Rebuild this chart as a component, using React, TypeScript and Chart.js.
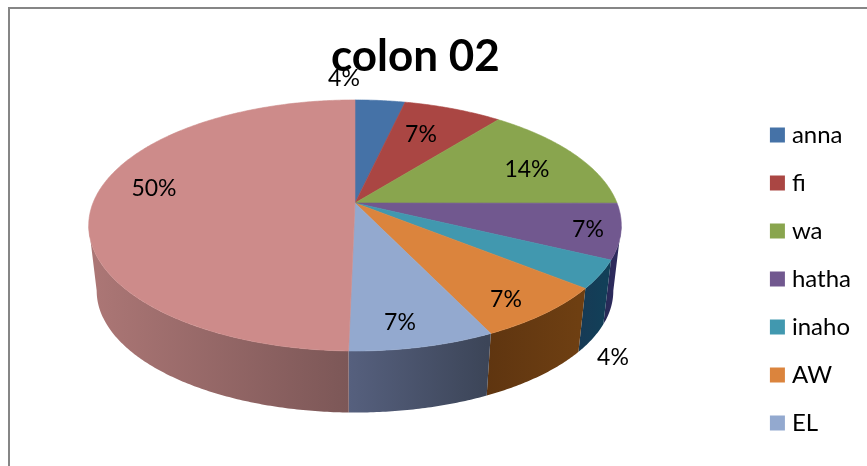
import React, { useEffect, useRef } from "react";
import { Chart, registerables } from "chart.js";

Chart.register(...registerables);

// Share of each group, in percent. The last group has no legend entry.
const groups = ["anna", "fi", "wa", "hatha", "inaho", "AW", "EL", ""];
const shares = [3.6, 7.1, 14.3, 7.1, 3.6, 7.1, 7.47, 49.63];
const topColors = ["#4572A7", "#AA4643", "#89A54E", "#71588F", "#4198AF", "#DB843D", "#93A9CF", "#CD8B8A"];
const wallFrom = ["#2b3f60", "#6a2b2a", "#556630", "#2d2a5c", "#123f58", "#6e3f12", "#3c4558", "#7c5757"];
const wallTo = ["#2b3f60", "#6a2b2a", "#556630", "#252a55", "#173a55", "#5f3510", "#56607e", "#ab7675"];

// Perspective disc: hub position, half-axes through the hub, and the foreshortening factor.
const HUB_X = 355;
const HUB_Y = 203;
const AXIS_X = 262;
const AXIS_Y = 121.5;
const TILT = 0.179;
const FLOOR_SCALE = 0.97;
const FLOOR_DROP = 66;
const WALL_START = (100.3 * Math.PI) / 180;
const WALL_END = (259.7 * Math.PI) / 180;

// Where each percentage is centred on the page.
const labelSpots = [
  [344, 79],
  [421, 135],
  [527, 170],
  [588, 230],
  [613, 358],
  [506, 300],
  [400, 323],
  [154, 189],
];

function rimPoint(theta: number, floor: boolean): [number, number] {
  const u = Math.sin(theta);
  const v = -Math.cos(theta);
  const w = 1 - TILT * v;
  if (floor) {
    return [HUB_X + (FLOOR_SCALE * AXIS_X * u) / w, HUB_Y + FLOOR_DROP + (FLOOR_SCALE * AXIS_Y * v) / w];
  }
  return [HUB_X + (AXIS_X * u) / w, HUB_Y + (AXIS_Y * v) / w];
}

function traceRim(ctx: CanvasRenderingContext2D, from: number, to: number, floor: boolean) {
  const steps = Math.max(2, Math.ceil(Math.abs(to - from) / 0.01));
  for (let i = 0; i <= steps; i++) {
    const [x, y] = rimPoint(from + ((to - from) * i) / steps, floor);
    ctx.lineTo(x, y);
  }
}

// Draws the arcs the doughnut controller laid out as a tilted disc with a side wall.
const tiltedDisc = {
  id: "tiltedDisc",
  beforeDraw(chart: any) {
    const { ctx, width, height } = chart;
    ctx.save();
    ctx.fillStyle = "#ffffff";
    ctx.fillRect(0, 0, width, height);
    ctx.strokeStyle = "#868686";
    ctx.lineWidth = 2;
    ctx.strokeRect(9, 8, width + 20, height + 20);
    ctx.restore();
  },
  beforeDatasetDraw(chart: any) {
    const { ctx } = chart;
    const arcs = chart.getDatasetMeta(0).data;
    const spans = arcs.map((arc: any) => [arc.startAngle + Math.PI / 2, arc.endAngle + Math.PI / 2]);
    ctx.save();
    spans.forEach(([a, b]: number[], i: number) => {
      const s = Math.max(a, WALL_START);
      const e = Math.min(b, WALL_END);
      if (e <= s) return;
      const x0 = rimPoint(s, true)[0];
      const x1 = rimPoint(e, true)[0];
      const g = ctx.createLinearGradient(x0, 0, x1, 0);
      g.addColorStop(0, wallFrom[i]);
      g.addColorStop(1, wallTo[i]);
      ctx.beginPath();
      traceRim(ctx, s, e, false);
      traceRim(ctx, e, s, true);
      ctx.closePath();
      ctx.fillStyle = g;
      ctx.fill();
    });
    spans.forEach(([a, b]: number[], i: number) => {
      ctx.beginPath();
      ctx.moveTo(HUB_X, HUB_Y);
      traceRim(ctx, a, b, false);
      ctx.closePath();
      ctx.fillStyle = topColors[i];
      ctx.strokeStyle = topColors[i];
      ctx.lineWidth = 0.6;
      ctx.fill();
      ctx.stroke();
    });
    ctx.restore();
    return false;
  },
  afterDatasetsDraw(chart: any) {
    const { ctx } = chart;
    const values: number[] = chart.data.datasets[0].data;
    ctx.save();
    ctx.font = "23px Lato";
    ctx.fillStyle = "#000000";
    ctx.textAlign = "center";
    ctx.textBaseline = "middle";
    values.forEach((value, i) => {
      ctx.fillText(`${Math.round(value)}%`, labelSpots[i][0], labelSpots[i][1]);
    });
    ctx.restore();
  },
};

export default function App() {
  const ref = useRef<HTMLCanvasElement>(null);

  useEffect(() => {
    const chart = new Chart(ref.current!, {
      type: "pie",
      plugins: [tiltedDisc],
      data: {
        labels: groups,
        datasets: [{ data: shares, backgroundColor: topColors, borderWidth: 0 }],
      },
      options: {
        responsive: false,
        animation: false,
        layout: { padding: { left: 80, right: 6, top: 0, bottom: -92 } },
        plugins: {
          tooltip: { enabled: false },
          title: {
            display: true,
            text: "colon 02",
            fullSize: false,
            color: "#000000",
            font: { family: "Lato", size: 44, weight: "bold" },
            padding: { top: 30, bottom: 10 },
          },
          legend: {
            position: "right",
            align: "center",
            labels: {
              font: { family: "Lato", size: 24 },
              color: "#000000",
              boxWidth: 5,
              boxHeight: 5,
              padding: 24,
              generateLabels: () =>
                groups
                  .map((text, i) => ({
                    text,
                    fillStyle: topColors[i],
                    strokeStyle: topColors[i],
                    lineWidth: 10,
                    index: i,
                  }))
                  .filter((item) => item.text !== ""),
            },
          },
        },
      },
    });
    return () => chart.destroy();
  }, []);

  return <canvas ref={ref} width={867} height={466} style={{ position: "fixed", left: 0, top: 0 }} />;
}
